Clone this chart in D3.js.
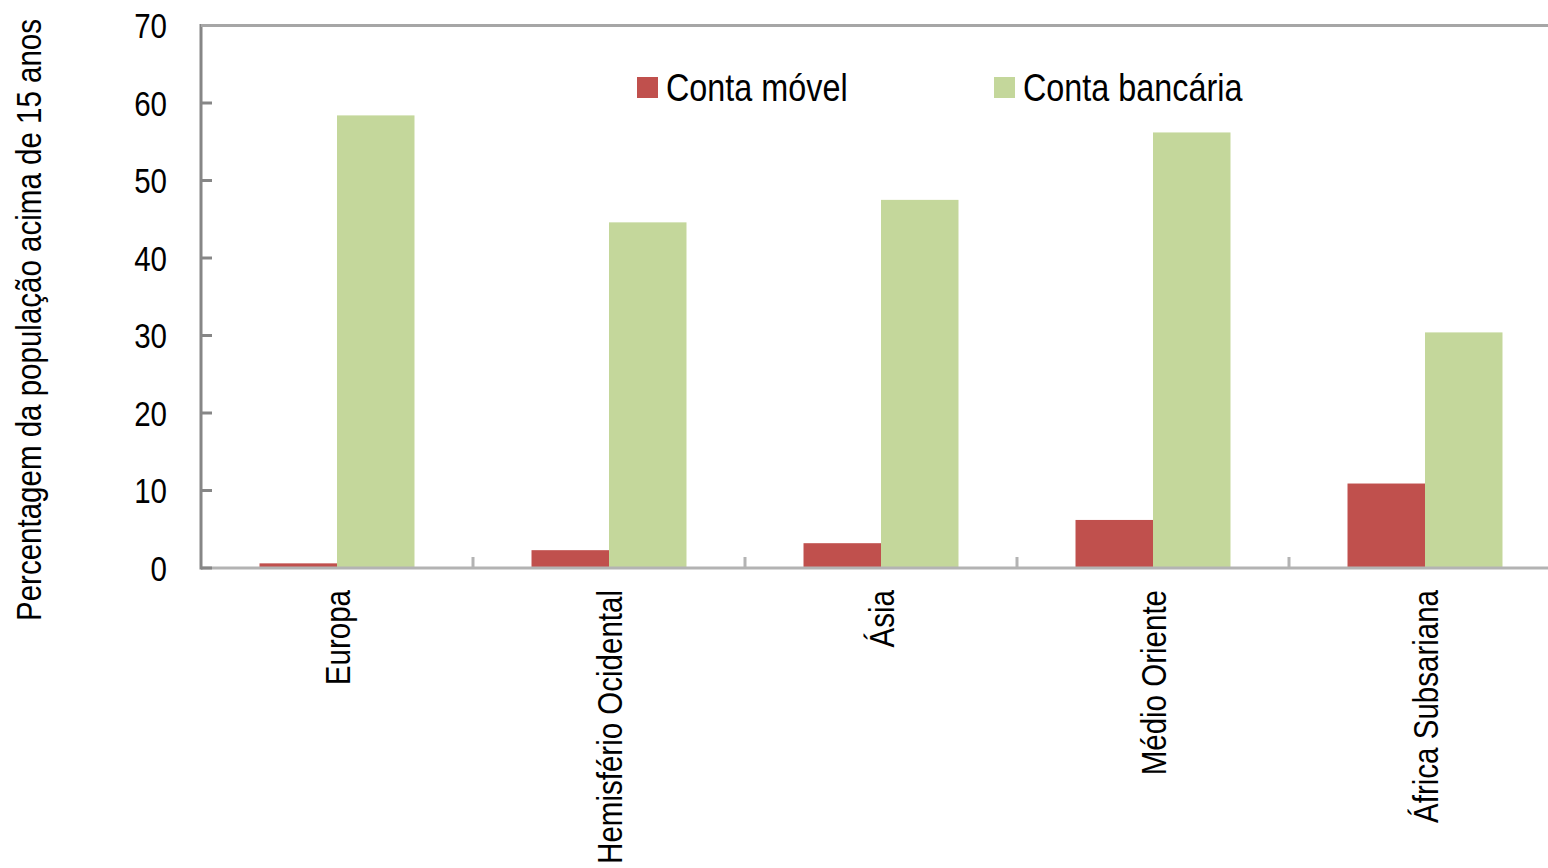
<!DOCTYPE html>
<html>
<head>
<meta charset="utf-8">
<script src="https://cdn.jsdelivr.net/npm/d3@7"></script>
<style>
  html, body { margin: 0; padding: 0; background: #fff; }
  svg { display: block; }
  text { font-family: "Liberation Sans", Arial, sans-serif; fill: #000; }
</style>
</head>
<body>
<svg id="chart" width="1548" height="868"></svg>
<script>
const categories = ["Europa", "Hemisfério Ocidental", "Ásia", "Médio Oriente", "África Subsariana"];
const seriesNames = ["Conta móvel", "Conta bancária"];
const contaMovel = [0.6, 2.3, 3.2, 6.2, 10.9];
const contaBancaria = [58.4, 44.6, 47.5, 56.2, 30.4];
const yTicks = [0, 10, 20, 30, 40, 50, 60, 70];
const colors = ["#C0504D", "#C4D79B"];
const yLabel = "Percentagem da população acima de 15 anos";

const values = [contaMovel, contaBancaria];
const svg = d3.select("#chart");
const narrow = 0.82; // emulate a condensed face

const plotLeft = 201, plotRight = 1561, plotTop = 25.5, plotBottom = 568;

const x0 = d3.scaleBand().domain(categories).range([plotLeft, plotRight]).padding(0);
const x1 = d3.scaleBand().domain(seriesNames).range([0, x0.bandwidth()]).paddingOuter(0.755).paddingInner(0);
const y = d3.scaleLinear().domain([0, 70]).range([plotBottom, plotTop]);

// top border
svg.append("line").attr("x1", plotLeft).attr("x2", plotRight).attr("y1", y(70)).attr("y2", y(70))
  .attr("stroke", "#A6A6A6").attr("stroke-width", 3);

// bars
const g = svg.append("g");
categories.forEach((c, i) => {
  seriesNames.forEach((s, j) => {
    g.append("rect")
      .attr("x", x0(c) + x1(s))
      .attr("width", x1.bandwidth())
      .attr("y", y(values[j][i]))
      .attr("height", y(0) - y(values[j][i]))
      .attr("fill", colors[j]);
  });
});

// x axis
const xAxisG = svg.append("g");
xAxisG.append("line").attr("x1", plotLeft).attr("x2", plotRight).attr("y1", y(0)).attr("y2", y(0))
  .attr("stroke", "#B3B3B3").attr("stroke-width", 3);
categories.forEach((c, i) => {
  if (i > 0) {
    xAxisG.append("line").attr("x1", x0(c)).attr("x2", x0(c))
      .attr("y1", y(0)).attr("y2", y(0) - 11)
      .attr("stroke", "#B3B3B3").attr("stroke-width", 3);
  }
  xAxisG.append("text")
    .attr("transform", `translate(${x0(c) + x0.bandwidth() / 2 + 13},590) rotate(-90) scale(${narrow},1)`)
    .attr("text-anchor", "end")
    .attr("font-size", 36)
    .text(c);
});

// y axis
const yAxisG = svg.append("g");
yAxisG.append("line").attr("x1", plotLeft).attr("x2", plotLeft).attr("y1", y(70) - 1.5).attr("y2", y(0) + 1.5)
  .attr("stroke", "#868686").attr("stroke-width", 3);
yTicks.forEach(t => {
  yAxisG.append("line").attr("x1", plotLeft).attr("x2", plotLeft + 11).attr("y1", y(t)).attr("y2", y(t))
    .attr("stroke", t === 70 ? "#A6A6A6" : "#868686").attr("stroke-width", 3);
  yAxisG.append("text")
    .attr("transform", `translate(167,${y(t)}) scale(${narrow},1)`)
    .attr("dy", "0.36em")
    .attr("text-anchor", "end")
    .attr("font-size", 36)
    .text(t);
});

// y label
svg.append("text")
  .attr("transform", `translate(41,320) rotate(-90) scale(${narrow},1)`)
  .attr("text-anchor", "middle")
  .attr("font-size", 36)
  .text(yLabel);

// legend
const legendX = [637, 994];
seriesNames.forEach((s, j) => {
  svg.append("rect").attr("x", legendX[j]).attr("y", 77).attr("width", 21).attr("height", 21).attr("fill", colors[j]);
  svg.append("text")
    .attr("transform", `translate(${legendX[j] + 29},101) scale(0.83,1)`)
    .attr("font-size", 39)
    .text(s);
});
</script>
</body>
</html>
